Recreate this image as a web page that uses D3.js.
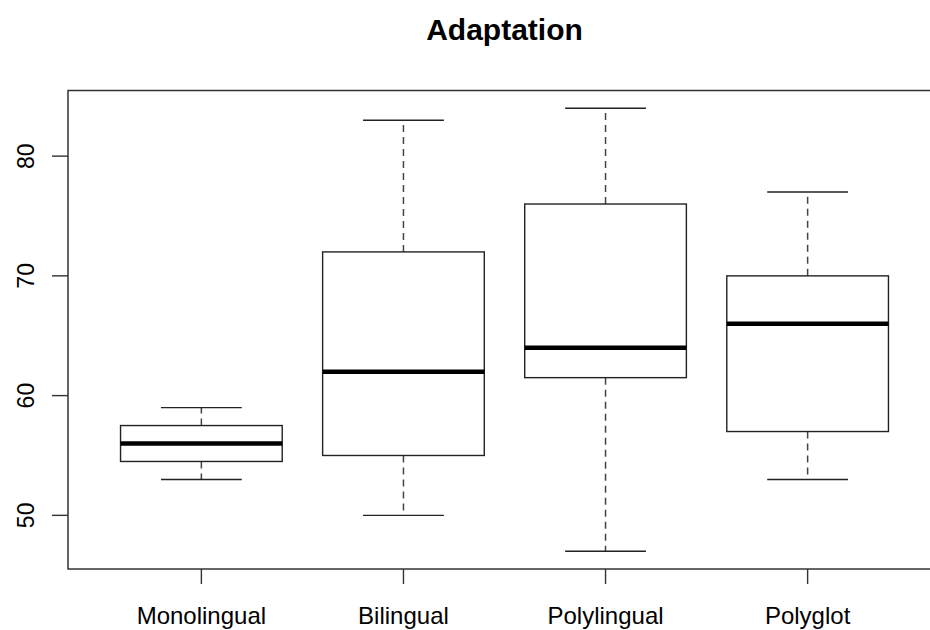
<!DOCTYPE html>
<html>
<head>
<meta charset="utf-8">
<script src="https://cdn.jsdelivr.net/npm/d3@7"></script>
<style>
  body { margin: 0; background: white; }
  text { font-family: "Liberation Sans", Arial, sans-serif; fill: #000; }
</style>
</head>
<body>
<script>
// Data
const categories = ["Monolingual", "Bilingual", "Polylingual", "Polyglot"];
const whiskerLow = [53, 50, 47, 53];
const q1 = [54.5, 55, 61.5, 57];
const median = [56, 62, 64, 66];
const q3 = [57.5, 72, 76, 70];
const whiskerHigh = [59, 83, 84, 77];
const yTicks = [50, 60, 70, 80];

const width = 930;
const height = 630;

const svg = d3.select("body")
  .append("svg")
  .attr("width", width)
  .attr("height", height);

// Scales (R style: xlim 0.5..4.5 padded 4%, ylim data range padded 4%)
const x = d3.scaleLinear()
  .domain([0.34, 4.66])
  .range([68, 941]);

const yMin = d3.min(whiskerLow), yMax = d3.max(whiskerHigh);
const pad = (yMax - yMin) * 0.04;
const y = d3.scaleLinear()
  .domain([yMin - pad, yMax + pad])
  .range([569, 90.5]);

const boxW = x(1.4) - x(1);     // boxwex 0.8
const capW = x(1.2) - x(1);     // staple 0.4

// Title
svg.append("text")
  .attr("x", (x.range()[0] + x.range()[1]) / 2)
  .attr("y", 40)
  .attr("text-anchor", "middle")
  .style("font-size", "30px")
  .style("font-weight", "bold")
  .text("Adaptation");

// Boxes
const boxes = svg.append("g").attr("id", "boxes");

categories.forEach((c, i) => {
  const cx = x(i + 1);
  const g = boxes.append("g");

  // dashed whiskers
  g.append("line")
    .attr("x1", cx).attr("x2", cx)
    .attr("y1", y(q3[i])).attr("y2", y(whiskerHigh[i]))
    .attr("stroke", "#444").attr("stroke-width", 1.5)
    .attr("stroke-dasharray", "7,5");
  g.append("line")
    .attr("x1", cx).attr("x2", cx)
    .attr("y1", y(q1[i])).attr("y2", y(whiskerLow[i]))
    .attr("stroke", "#444").attr("stroke-width", 1.5)
    .attr("stroke-dasharray", "7,5");

  // staples
  [whiskerLow[i], whiskerHigh[i]].forEach(v => {
    g.append("line")
      .attr("x1", cx - capW).attr("x2", cx + capW)
      .attr("y1", y(v)).attr("y2", y(v))
      .attr("stroke", "#222").attr("stroke-width", 1.4);
  });

  // box
  g.append("rect")
    .attr("x", cx - boxW)
    .attr("y", y(q3[i]))
    .attr("width", boxW * 2)
    .attr("height", y(q1[i]) - y(q3[i]))
    .attr("fill", "white")
    .attr("stroke", "#222")
    .attr("stroke-width", 1.4);

  // median
  g.append("line")
    .attr("x1", cx - boxW).attr("x2", cx + boxW)
    .attr("y1", y(median[i])).attr("y2", y(median[i]))
    .attr("stroke", "#000").attr("stroke-width", 4.5);
});

// Plot frame
svg.append("rect")
  .attr("x", x.range()[0])
  .attr("y", y.range()[1])
  .attr("width", x.range()[1] - x.range()[0])
  .attr("height", y.range()[0] - y.range()[1])
  .attr("fill", "none")
  .attr("stroke", "#333")
  .attr("stroke-width", 1.5);

// Y axis
const yAxis = svg.append("g").attr("id", "y-axis");
yAxis.selectAll("line")
  .data(yTicks)
  .enter()
  .append("line")
  .attr("x1", 52).attr("x2", x.range()[0])
  .attr("y1", d => y(d)).attr("y2", d => y(d))
  .attr("stroke", "#333").attr("stroke-width", 1.4);
yAxis.selectAll("text")
  .data(yTicks)
  .enter()
  .append("text")
  .attr("transform", d => `translate(34,${y(d)}) rotate(-90)`)
  .attr("text-anchor", "middle")
  .style("font-size", "23px")
  .text(d => d);

// X axis
const xAxis = svg.append("g").attr("id", "x-axis");
xAxis.selectAll("line")
  .data(categories)
  .enter()
  .append("line")
  .attr("x1", (d, i) => x(i + 1)).attr("x2", (d, i) => x(i + 1))
  .attr("y1", y.range()[0]).attr("y2", y.range()[0] + 15)
  .attr("stroke", "#333").attr("stroke-width", 1.4);
xAxis.selectAll("text")
  .data(categories)
  .enter()
  .append("text")
  .attr("x", (d, i) => x(i + 1))
  .attr("y", 624)
  .attr("text-anchor", "middle")
  .style("font-size", "24px")
  .text(d => d);
</script>
</body>
</html>
